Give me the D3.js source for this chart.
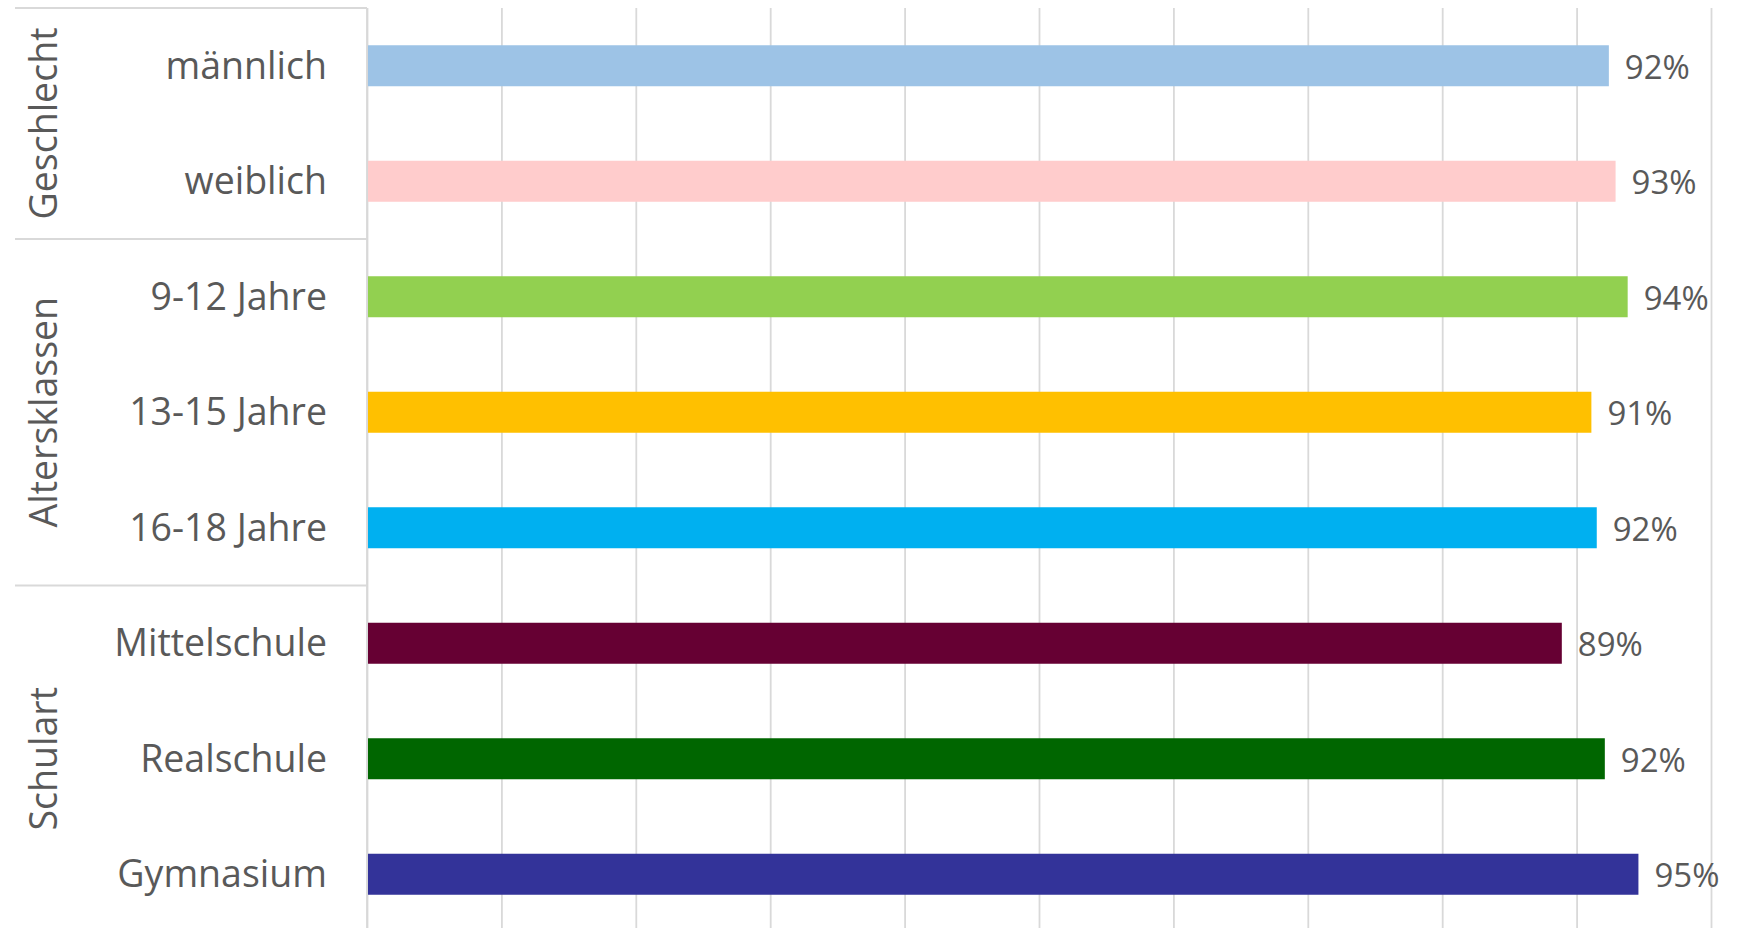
<!DOCTYPE html>
<html>
<head>
<meta charset="utf-8">
<script src="https://cdn.jsdelivr.net/npm/d3@7"></script>
<style>
    body { margin: 0; background: #fff; }
    text { font-family: "Open Sans", sans-serif; fill: #595959; }
</style>
</head>
<body>
<div id="chart"></div>
<script>
// data
const categories = ["männlich", "weiblich", "9-12 Jahre", "13-15 Jahre", "16-18 Jahre", "Mittelschule", "Realschule", "Gymnasium"];
const values = [0.924, 0.929, 0.938, 0.911, 0.915, 0.889, 0.921, 0.946];
const valueLabels = ["92%", "93%", "94%", "91%", "92%", "89%", "92%", "95%"];
const barColors = ["#9DC3E6", "#FFCCCC", "#92D050", "#FFC000", "#00B0F0", "#660033", "#006600", "#333399"];
const groups = ["Geschlecht", "Altersklassen", "Schulart"];
const groupSizes = [2, 3, 3];

class groupedBarChart {
    constructor(parentElement) {
        this.parentElement = parentElement;
        this.initVis();
    }
    initVis() {
        let vis = this;

        // margin conventions
        vis.margin = { top: 8, right: 31, bottom: -4, left: 367 };
        vis.width = 1742 - vis.margin.left - vis.margin.right;
        vis.height = 928 - vis.margin.top - vis.margin.bottom;

        vis.svg = d3.select("#" + vis.parentElement).append("svg")
            .attr("width", 1742)
            .attr("height", 928)
            .append("g")
            .attr("transform", "translate(" + vis.margin.left + "," + vis.margin.top + ")");

        vis.x = d3.scaleLinear()
            .domain([0, 1])
            .range([0, vis.width]);

        vis.y = d3.scaleBand()
            .domain(categories)
            .range([0, vis.height])
            .paddingInner(0.645)
            .paddingOuter(0.3225);

        vis.updateVis();
    }
    updateVis() {
        let vis = this;

        // gridlines
        vis.xAxis = d3.axisBottom(vis.x)
            .tickValues(d3.range(0, 11).map(d => d / 10))
            .tickSize(-vis.height)
            .tickFormat("");

        vis.svg.append("g")
            .attr("class", "x-grid")
            .attr("transform", "translate(0," + vis.height + ")")
            .call(vis.xAxis)
            .call(g => g.select(".domain").remove())
            .call(g => g.selectAll(".tick line").attr("stroke", "#d9d9d9").attr("stroke-width", 1.8));

        // group boxes on the left
        let bounds = [0];
        groupSizes.forEach((n, i) => bounds.push(bounds[i] + n));
        let step = vis.y.step();

        vis.svg.selectAll(".group-line")
            .data(bounds.slice(0, 3))
            .enter()
            .append("line")
            .attr("x1", -352)
            .attr("x2", 0)
            .attr("y1", d => d * step)
            .attr("y2", d => d * step)
            .attr("stroke", "#d9d9d9")
            .attr("stroke-width", 1.8);

        vis.svg.append("line")
            .attr("x1", 0).attr("x2", 0)
            .attr("y1", 0).attr("y2", vis.height)
            .attr("stroke", "#d9d9d9")
            .attr("stroke-width", 1.8);

        vis.svg.selectAll(".group-label")
            .data(groups)
            .enter()
            .append("text")
            .attr("class", "group-label")
            .attr("transform", (d, i) => "translate(-310," + ((bounds[i] + bounds[i + 1]) / 2 * step) + ")rotate(-90)")
            .attr("text-anchor", "middle")
            .style("font-size", "37.5px")
            .text(d => d);

        // category labels
        vis.svg.selectAll(".cat-label")
            .data(categories)
            .enter()
            .append("text")
            .attr("class", "cat-label")
            .attr("x", -40)
            .attr("y", d => vis.y(d) + vis.y.bandwidth() / 2)
            .attr("dy", "0.35em")
            .attr("text-anchor", "end")
            .style("font-size", "37.5px")
            .text(d => d);

        // bars
        vis.svg.selectAll(".bar")
            .data(categories)
            .enter()
            .append("rect")
            .attr("class", "bar")
            .attr("x", vis.x(0) + 1)
            .attr("y", d => vis.y(d))
            .attr("width", (d, i) => vis.x(values[i]) - vis.x(0) - 1)
            .attr("height", vis.y.bandwidth())
            .attr("fill", (d, i) => barColors[i]);

        // value labels
        vis.svg.selectAll(".value-label")
            .data(categories)
            .enter()
            .append("text")
            .attr("class", "value-label")
            .attr("x", (d, i) => vis.x(values[i]) + 16)
            .attr("y", d => vis.y(d) + vis.y.bandwidth() / 2)
            .attr("dy", "0.4em")
            .style("font-size", "33px")
            .text((d, i) => valueLabels[i]);
    }
}

new groupedBarChart("chart");
</script>
</body>
</html>
